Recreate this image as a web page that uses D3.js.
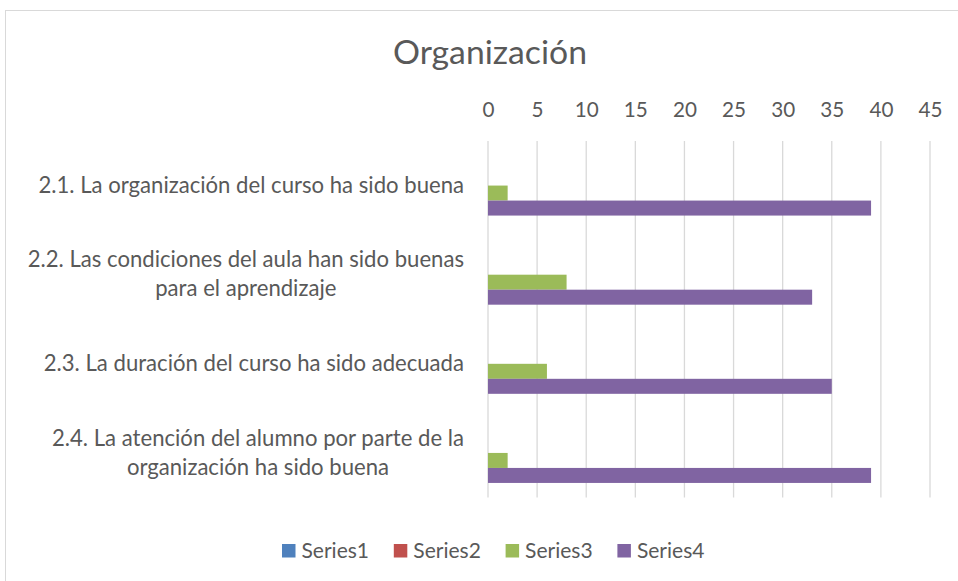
<!DOCTYPE html>
<html>
<head>
<meta charset="utf-8">
<script src="https://cdn.jsdelivr.net/npm/d3@7"></script>
<style>
  html, body { margin: 0; padding: 0; background: #fff; }
  svg { display: block; }
  text { font-family: Lato, "Open Sans", sans-serif; fill: #595959; }
</style>
</head>
<body>
<svg id="chart" width="958" height="581"></svg>
<script>
// Chart data
const title = "Organización";
const categories = [
  "2.1. La organización del curso ha sido buena",
  "2.2. Las condiciones del aula han sido buenas\npara el aprendizaje",
  "2.3. La duración del curso ha sido adecuada",
  "2.4. La atención del alumno por parte de la\norganización ha sido buena"
];
const seriesNames = ["Series1", "Series2", "Series3", "Series4"];
const series1 = [0, 0, 0, 0];
const series2 = [0, 0, 0, 0];
const series3 = [2, 8, 6, 2];
const series4 = [39, 33, 35, 39];
const tickValues = [0, 5, 10, 15, 20, 25, 30, 35, 40, 45];
const seriesColors = ["#4f81bd", "#c0504d", "#9bbb59", "#8064a2"];

const seriesValues = [series1, series2, series3, series4];

const svg = d3.select("#chart");
const W = 958, H = 581;

// Chart area frame
svg.append("rect")
  .attr("x", 5.5).attr("y", 10.5)
  .attr("width", W + 10).attr("height", H + 10)
  .attr("fill", "#fff").attr("stroke", "#d9d9d9").attr("stroke-width", 1);

// Find a font size that makes a string span a given width
function fitSize(str, targetWidth, base = 100) {
  const t = svg.append("text").attr("font-size", base).text(str);
  const w = t.node().getComputedTextLength();
  t.remove();
  return base * targetWidth / w;
}

const catSize = fitSize("2.1. La organización del curso ha sido buena", 426);
const tickSize = fitSize("45", 24);
const legendSize = fitSize("Series1", 67.6);
const titleSize = fitSize(title, 194);

// Plot area
const plot = { left: 488, right: 930, top: 141, bottom: 497.5 };

const x = d3.scaleLinear().domain([0, 45]).range([plot.left, plot.right]);

const pad = 1 - 60 / ((plot.bottom - plot.top) / categories.length);
const y = d3.scaleBand()
  .domain(d3.range(categories.length))
  .range([plot.top, plot.bottom])
  .paddingInner(pad)
  .paddingOuter(pad / 2);

const ySeries = d3.scaleBand()
  .domain(d3.range(seriesNames.length))
  .range([0, y.bandwidth()]);

// Vertical gridlines
svg.append("g")
  .selectAll("line")
  .data(tickValues)
  .join("line")
  .attr("x1", d => x(d)).attr("x2", d => x(d))
  .attr("y1", plot.top).attr("y2", plot.bottom)
  .attr("stroke", "#d9d9d9").attr("stroke-width", 1.3);

// Value axis on top (labels only)
const axisTop = d3.axisTop(x).tickValues(tickValues).tickSize(0).tickPadding(0);
const gAxis = svg.append("g")
  .attr("transform", `translate(0,117)`)
  .call(axisTop);
gAxis.select(".domain").remove();
gAxis.selectAll("text")
  .attr("font-size", tickSize)
  .attr("font-family", "Lato, 'Open Sans', sans-serif")
  .attr("fill", "#595959")
  .attr("dy", 0);

// Bars
const groups = svg.append("g")
  .selectAll("g")
  .data(categories.map((c, i) => i))
  .join("g")
  .attr("transform", i => `translate(0,${y(i)})`);

groups.selectAll("rect")
  .data(i => seriesValues.map((vals, s) => ({ s, v: vals[i] })))
  .join("rect")
  .attr("x", x(0))
  .attr("y", d => ySeries(d.s))
  .attr("width", d => x(d.v) - x(0))
  .attr("height", ySeries.bandwidth())
  .attr("fill", d => seriesColors[d.s]);

// Category labels: block right-aligned, lines centered within the block
const lineH = 29;
categories.forEach((c, i) => {
  const lines = c.split("\n");
  const g = svg.append("g");
  const texts = g.selectAll("text")
    .data(lines)
    .join("text")
    .attr("font-size", catSize)
    .attr("text-anchor", "middle")
    .text(d => d);
  const widths = texts.nodes().map(n => n.getComputedTextLength());
  const blockW = d3.max(widths);
  const right = 464;
  const cy = y(i) + y.bandwidth() / 2;
  const firstBase = cy + catSize * 0.32 - (lines.length - 1) * lineH / 2;
  texts
    .attr("x", right - blockW / 2)
    .attr("y", (d, k) => firstBase + k * lineH);
});

// Title
svg.append("text")
  .attr("x", 490).attr("y", 63.5)
  .attr("text-anchor", "middle")
  .attr("font-size", titleSize)
  .text(title);

// Legend
const legendStart = 282, legendStep = 111.8;
const leg = svg.append("g")
  .selectAll("g")
  .data(seriesNames)
  .join("g")
  .attr("transform", (d, i) => `translate(${legendStart + i * legendStep},0)`);
leg.append("rect")
  .attr("x", 0).attr("y", 544)
  .attr("width", 13.5).attr("height", 13.5)
  .attr("fill", (d, i) => seriesColors[i]);
leg.append("text")
  .attr("x", 19.5).attr("y", 557.5)
  .attr("font-size", legendSize)
  .text(d => d);
</script>
</body>
</html>
